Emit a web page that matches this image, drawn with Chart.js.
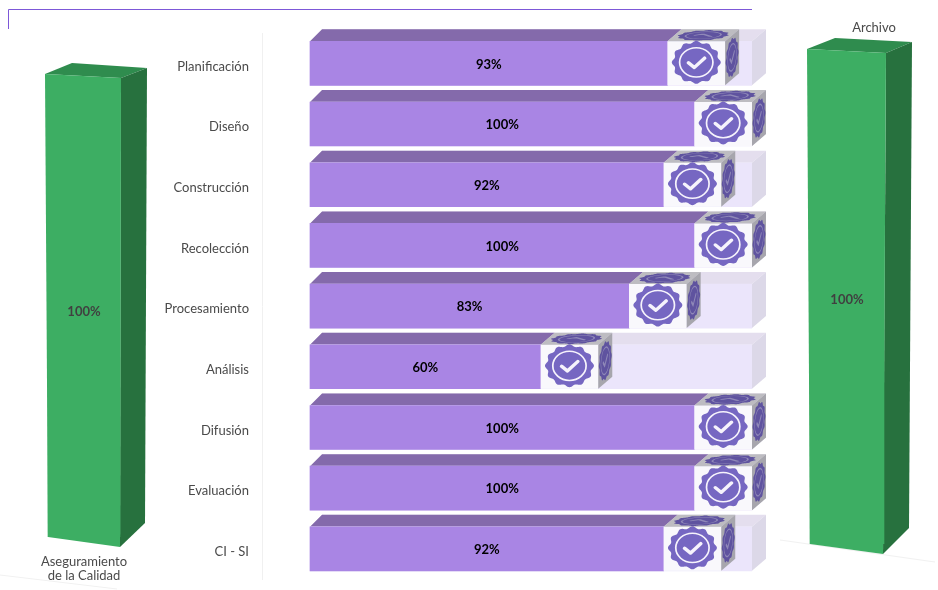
<!DOCTYPE html>
<html>
<head>
<meta charset="utf-8">
<title>Avance por fase</title>
<script src="https://cdn.jsdelivr.net/npm/chart.js@4/dist/chart.umd.min.js"></script>
<style>
    html, body { margin: 0; padding: 0; background: #fff; }
    body { position: relative; width: 938px; height: 590px; overflow: hidden; }
    canvas, svg { position: absolute; }
</style>
</head>
<body>
<svg width="938" height="590" style="left:0;top:0">
    <path d="M8.5 29V9.5H752" fill="none" stroke="#7d58d8" stroke-width="1"/>
    <path d="M0 575L117 589M780 540L935 562" fill="none" stroke="#f1f1f1" stroke-width="1"/>
</svg>
<canvas id="chartIzq" width="168" height="590" style="left:0;top:0"></canvas>
<canvas id="chartFases" width="620" height="600" style="left:160px;top:0"></canvas>
<canvas id="chartDer" width="158" height="590" style="left:780px;top:0"></canvas>
<script>
// Datos
const categorias = ['Planificación', 'Diseño', 'Construcción', 'Recolección', 'Procesamiento', 'Análisis', 'Difusión', 'Evaluación', 'CI - SI'];
const cumplimiento = [93, 100, 92, 100, 83, 60, 100, 100, 92];
const pista = [115, 115, 115, 115, 115, 115, 115, 115, 115];
const categoriaIzq = [['Aseguramiento', 'de la Calidad']];
const valorIzq = [100];
const categoriaDer = ['Archivo'];
const valorDer = [100];
const anchoSello = 15;

const fuente = 'Lato, sans-serif';

function poly(ctx, color, pts) {
    ctx.fillStyle = color;
    ctx.beginPath();
    pts.forEach((p, i) => i ? ctx.lineTo(p[0], p[1]) : ctx.moveTo(p[0], p[1]));
    ctx.closePath();
    ctx.fill();
}

// Sello dibujado en un circulo de radio 1, la transformacion la pone el que llama
function sello(ctx, relleno, claro) {
    ctx.fillStyle = relleno;
    ctx.beginPath();
    for (let i = 0; i <= 144; i++) {
        const t = i / 144 * Math.PI * 2;
        const r = 0.95 + 0.05 * Math.cos(t * 12);
        ctx.lineTo(Math.cos(t) * r, Math.sin(t) * r);
    }
    ctx.closePath();
    ctx.fill();
    ctx.strokeStyle = claro;
    ctx.lineWidth = 0.07;
    ctx.beginPath();
    ctx.arc(0, 0, 0.68, 0, Math.PI * 2);
    ctx.stroke();
    ctx.lineWidth = 0.15;
    ctx.lineCap = 'round';
    ctx.lineJoin = 'round';
    ctx.strokeStyle = claro;
    ctx.beginPath();
    ctx.moveTo(-0.32, 0.02);
    ctx.lineTo(-0.08, 0.24);
    ctx.lineTo(0.34, -0.2);
    ctx.stroke();
}

// Caras 3D de las barras horizontales y cubo con sello
const fases3d = {
    id: 'fases3d',
    beforeDatasetsDraw(chart) {
        const ctx = chart.ctx;
        const dx = 14, dy = 12;
        const xs = chart.scales.x;
        const x0 = xs.getPixelForValue(0);
        chart.getDatasetMeta(1).data.forEach((bar, i) => {
            const y1 = bar.y - bar.height / 2, y2 = bar.y + bar.height / 2;
            poly(ctx, '#e4deee', [[x0, y1], [x0 + 12, y1 - dy], [bar.x + dx, y1 - dy], [bar.x, y1]]);
            poly(ctx, '#dcd8e8', [[bar.x, y1], [bar.x + dx, y1 - dy], [bar.x + dx, y2 - dy], [bar.x, y2]]);
        });
        chart.getDatasetMeta(0).data.forEach(bar => {
            const y1 = bar.y - bar.height / 2;
            poly(ctx, '#846aab', [[x0, y1], [x0 + 12, y1 - dy], [bar.x + dx, y1 - dy], [bar.x, y1]]);
        });
    },
    afterDatasetsDraw(chart) {
        const ctx = chart.ctx;
        const dx = 14, dy = 12;
        const xs = chart.scales.x;
        chart.getDatasetMeta(0).data.forEach((bar, i) => {
            const y1 = bar.y - bar.height / 2, y2 = bar.y + bar.height / 2;
            const a = bar.x, b = xs.getPixelForValue(cumplimiento[i] + anchoSello);
            ctx.save();
            poly(ctx, '#f9f8fc', [[a, y1], [b, y1], [b, y2], [a, y2]]);
            poly(ctx, '#bdbcc1', [[a, y1], [a + dx, y1 - dy], [b + dx, y1 - dy], [b, y1]]);
            poly(ctx, '#a7a6ad', [[b, y1], [b + dx, y1 - dy], [b + dx, y2 - dy], [b, y2]]);
            const w = b - a, h = y2 - y1;

            // frente
            ctx.save();
            ctx.translate((a + b) / 2, bar.y - 1);
            ctx.scale(24.5, 21.5);
            sello(ctx, '#7667c2', '#f6f3fc');
            ctx.restore();
            // tapa
            ctx.save();
            ctx.transform(w * 0.44, 0, dx * 0.44, -dy * 0.44, a + w / 2 + dx / 2, y1 - dy / 2);
            sello(ctx, '#5f539f', '#8f88b8');
            ctx.restore();
            // lado
            ctx.save();
            ctx.transform(dx * 0.46, -dy * 0.46, 0, h * 0.44, b + dx / 2, bar.y - dy / 2);
            sello(ctx, '#5f539f', '#8f88b8');
            ctx.restore();
            ctx.restore();

            // etiqueta de valor centrada en la barra
            ctx.fillStyle = '#000';
            ctx.font = 'bold 13px ' + fuente;
            ctx.textAlign = 'center';
            ctx.textBaseline = 'middle';
            ctx.fillText(cumplimiento[i] + '%', (bar.base + bar.x) / 2, bar.y + 1);
        });
    }
};

// Columna verde: caras en perspectiva alrededor de la barra del chart
const columna3d = {
    id: 'columna3d',
    beforeDatasetsDraw(chart, args, o) {
        const ctx = chart.ctx;
        const bar = chart.getDatasetMeta(0).data[0];
        const l = bar.x - bar.width / 2, r = bar.x + bar.width / 2;
        const tl = [l + o.tl[0], bar.y + o.tl[1]], tr = [r + o.tr[0], bar.y];
        const br = [r + o.br[0], bar.base + o.br[1]], bl = [l, bar.base];
        const btl = [tl[0] + o.atras[0], tl[1] + o.atras[1]];
        const btr = [tr[0] + o.atras[2], tr[1] + o.atras[3]];
        const bbr = [br[0] + o.abajo[0], br[1] + o.abajo[1]];
        poly(ctx, '#2f8c4e', [tl, btl, btr, tr]);
        poly(ctx, '#27713e', [tr, btr, bbr, br]);
        poly(ctx, '#3dae63', [tl, tr, br, bl]);
    },
    afterDatasetsDraw(chart, args, o) {
        const ctx = chart.ctx;
        const bar = chart.getDatasetMeta(0).data[0];
        ctx.fillStyle = '#404040';
        ctx.font = 'bold 13px ' + fuente;
        ctx.textAlign = 'center';
        ctx.textBaseline = 'middle';
        ctx.fillText(chart.data.datasets[0].data[0] + '%', bar.x, (bar.y + bar.base) / 2 + o.dyTexto);
    }
};

new Chart(document.getElementById('chartFases').getContext('2d'), {
    type: 'bar',
    plugins: [fases3d],
    data: {
        labels: categorias,
        datasets: [
            { label: 'Cumplimiento', data: cumplimiento, backgroundColor: '#a985e4', grouped: false, order: 1, barThickness: 44 },
            { label: 'Pista', data: pista, backgroundColor: '#ebe5fb', grouped: false, order: 2, barThickness: 44 }
        ]
    },
    options: {
        indexAxis: 'y',
        responsive: false,
        animation: false,
        layout: { padding: { top: 33, bottom: 0, right: 28, left: 0 } },
        plugins: { legend: { display: false }, tooltip: { enabled: false } },
        scales: {
            x: { display: false, min: -12.5, max: 115 },
            y: {
                afterFit(scale) { scale.width = 102; },
                grid: { display: false, drawTicks: false },
                border: { display: true, color: '#f0f0f0' },
                ticks: { color: '#4a4a4a', font: { family: fuente, size: 13 }, padding: 13, labelOffset: 3, autoSkip: false }
            }
        }
    }
});

function columna(id, labels, valores, ancho, padding, eje, ticks, caras) {
    new Chart(document.getElementById(id).getContext('2d'), {
        type: 'bar',
        plugins: [columna3d],
        data: {
            labels: labels,
            datasets: [{ label: 'Avance', data: valores, backgroundColor: '#3dae63', barThickness: ancho }]
        },
        options: {
            responsive: false,
            animation: false,
            layout: { padding: padding },
            plugins: { legend: { display: false }, tooltip: { enabled: false }, columna3d: caras },
            scales: {
                y: { display: false, min: 0, max: 100 },
                x: {
                    position: eje,
                    afterFit(scale) { scale.height = 53; },
                    grid: { display: false, drawTicks: false },
                    border: { display: false },
                    ticks: Object.assign({ color: '#4a4a4a', font: { family: fuente, size: 13, lineHeight: 1.08 }, maxRotation: 0, autoSkip: false }, ticks)
                }
            }
        }
    });
}

columna('chartIzq', categoriaIzq, valorIzq, 72, { top: 78 }, 'bottom', { padding: 18 }, {
    tl: [-3, -4], tr: [1], br: [0, 10], atras: [27, -11, 26, -10], abajo: [25, -24], dyTexto: 4
});
columna('chartDer', categoriaDer, valorDer, 74, { right: 24, bottom: 46 }, 'top', { padding: 18, labelOffset: 27 }, {
    tl: [-3, -4], tr: [2], br: [-1, 10], atras: [28, -11, 26, -11], abajo: [26, -26], dyTexto: 1
});
</script>
</body>
</html>
